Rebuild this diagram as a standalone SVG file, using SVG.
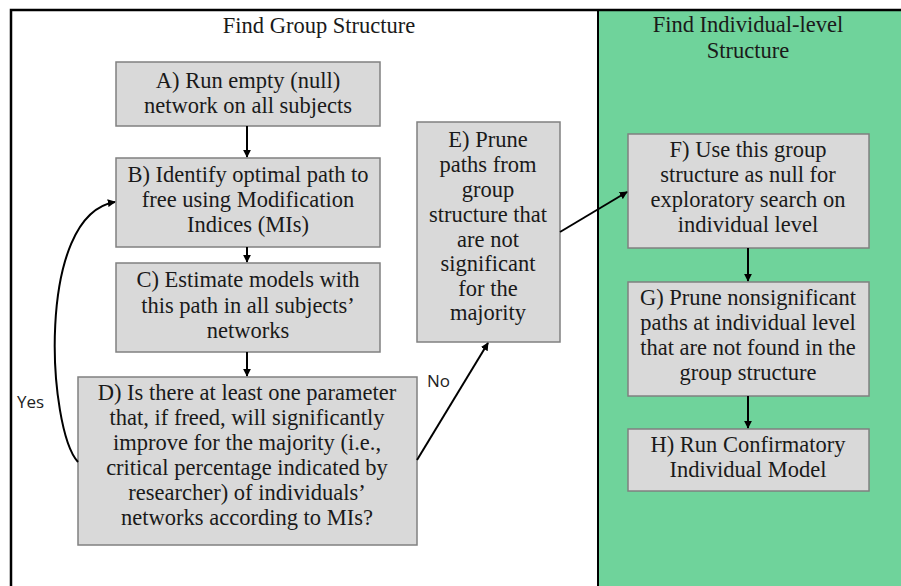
<svg xmlns="http://www.w3.org/2000/svg" width="901" height="586" viewBox="0 0 901 586">
<style>
.box{fill:#d9d9d9;stroke:#808080;stroke-width:1.5}
.t{font-family:"Liberation Serif","Times New Roman",serif;font-size:22.5px;fill:#1a1a1a;text-anchor:middle}
.s{font-family:"Open Sans","Liberation Sans",sans-serif;font-size:17px;fill:#222}
.c{fill:none;stroke:#000;stroke-width:2}
</style>
<defs>
<marker id="ah" viewBox="0 0 10 10" refX="9" refY="5" markerWidth="4" markerHeight="4" orient="auto" markerUnits="strokeWidth">
<path d="M0,0 L10,5 L0,10 z" fill="#000"/>
</marker>
</defs>
<rect x="0" y="0" width="901" height="586" fill="#fff"/>
<rect x="598" y="10" width="303" height="576" fill="#6fd39b"/>
<path d="M11,586 V10 H901" fill="none" stroke="#000" stroke-width="2.5"/>
<line x1="598" y1="10" x2="598" y2="586" stroke="#000" stroke-width="2"/>
<text class="t" x="319" y="33">Find Group Structure</text>
<text class="t" x="748" y="32">Find Individual-level</text>
<text class="t" x="748" y="58">Structure</text>
<g id="A"><rect class="box" x="116" y="62" width="264" height="64"/>
<text class="t" x="248" y="88">A) Run empty (null)</text>
<text class="t" x="248" y="113">network on all subjects</text></g>
<g id="B"><rect class="box" x="116" y="158" width="264" height="89"/>
<text class="t" x="248" y="182">B) Identify optimal path to</text>
<text class="t" x="248" y="207">free using Modification</text>
<text class="t" x="248" y="232">Indices (MIs)</text></g>
<g id="C"><rect class="box" x="116" y="263" width="264" height="89"/>
<text class="t" x="248" y="287">C) Estimate models with</text>
<text class="t" x="248" y="313">this path in all subjects’</text>
<text class="t" x="248" y="338">networks</text></g>
<g id="D"><rect class="box" x="78" y="377" width="339" height="168"/>
<text class="t" x="247" y="400">D) Is there at least one parameter</text>
<text class="t" x="247" y="425">that, if freed, will significantly</text>
<text class="t" x="247" y="450">improve for the majority (i.e.,</text>
<text class="t" x="247" y="475">critical percentage indicated by</text>
<text class="t" x="247" y="500">researcher) of individuals’</text>
<text class="t" x="247" y="525">networks according to MIs?</text></g>
<g id="E"><rect class="box" x="417" y="122" width="143" height="220"/>
<text class="t" x="488" y="147">E) Prune</text>
<text class="t" x="488" y="172">paths from</text>
<text class="t" x="488" y="197">group</text>
<text class="t" x="488" y="222">structure that</text>
<text class="t" x="488" y="247">are not</text>
<text class="t" x="488" y="271">significant</text>
<text class="t" x="488" y="296">for the</text>
<text class="t" x="488" y="320">majority</text></g>
<g id="F"><rect class="box" x="628" y="134" width="241" height="114"/>
<text class="t" x="748" y="157">F) Use this group</text>
<text class="t" x="748" y="182">structure as null for</text>
<text class="t" x="748" y="207">exploratory search on</text>
<text class="t" x="748" y="232">individual level</text></g>
<g id="G"><rect class="box" x="628" y="282" width="241" height="114"/>
<text class="t" x="748" y="305">G) Prune nonsignificant</text>
<text class="t" x="748" y="330">paths at individual level</text>
<text class="t" x="748" y="355">that are not found in the</text>
<text class="t" x="748" y="380">group structure</text></g>
<g id="H"><rect class="box" x="628" y="429" width="241" height="62"/>
<text class="t" x="748" y="452">H) Run Confirmatory</text>
<text class="t" x="748" y="477">Individual Model</text></g>
<g id="connectors">
<line class="c" x1="247" y1="126" x2="247" y2="157" marker-end="url(#ah)"/>
<line class="c" x1="247" y1="247" x2="247" y2="262" marker-end="url(#ah)"/>
<line class="c" x1="247" y1="352" x2="247" y2="376" marker-end="url(#ah)"/>
<path class="c" d="M78,462 C48,430 35,215 115,202" marker-end="url(#ah)"/>
<line class="c" x1="417" y1="460" x2="488" y2="343" marker-end="url(#ah)"/>
<line class="c" x1="560" y1="232" x2="627" y2="192" marker-end="url(#ah)"/>
<line class="c" x1="748" y1="248" x2="748" y2="281" marker-end="url(#ah)"/>
<line class="c" x1="748" y1="396" x2="748" y2="428" marker-end="url(#ah)"/>
<text class="s" x="17" y="408">Yes</text>
<text class="s" x="427" y="387">No</text>
</g>
</svg>
